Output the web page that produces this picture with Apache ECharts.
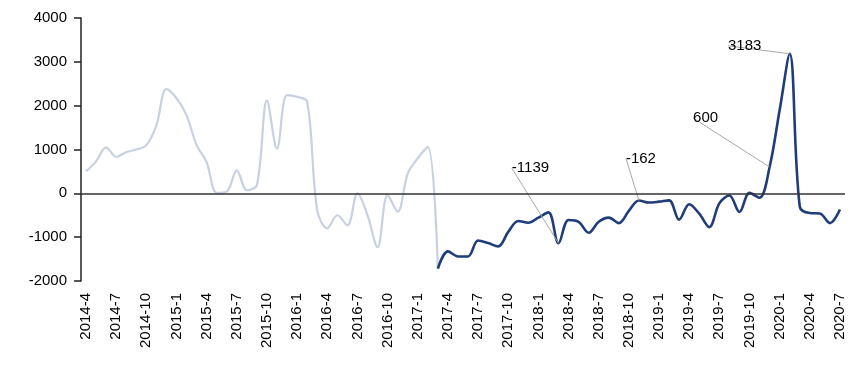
<!DOCTYPE html>
<html>
<head>
<meta charset="utf-8">
<script src="https://cdn.jsdelivr.net/npm/echarts@6/dist/echarts.min.js"></script>
<style>
html,body{margin:0;padding:0;background:#fff;}
#chart{width:868px;height:366px;}
</style>
</head>
<body>
<div id="chart"></div>
<script>
var categories = [
 '2014-4','2014-5','2014-6','2014-7','2014-8','2014-9','2014-10','2014-11','2014-12',
 '2015-1','2015-2','2015-3','2015-4','2015-5','2015-6','2015-7','2015-8','2015-9','2015-10','2015-11','2015-12',
 '2016-1','2016-2','2016-3','2016-4','2016-5','2016-6','2016-7','2016-8','2016-9','2016-10','2016-11','2016-12',
 '2017-1','2017-2','2017-3','2017-4','2017-5','2017-6','2017-7','2017-8','2017-9','2017-10','2017-11','2017-12',
 '2018-1','2018-2','2018-3','2018-4','2018-5','2018-6','2018-7','2018-8','2018-9','2018-10','2018-11','2018-12',
 '2019-1','2019-2','2019-3','2019-4','2019-5','2019-6','2019-7','2019-8','2019-9','2019-10','2019-11','2019-12',
 '2020-1','2020-2','2020-3','2020-4','2020-5','2020-6','2020-7'
];
// 2014-4 .. 2017-3
var lightValues = [500, 730, 1050, 830, 940, 1000, 1100, 1550, 2380,
  2170, 1780, 1100, 710, 10, 40, 525, 70, 190, 2120, 1020, 2240,
  2200, 2090, -390, -800, -500, -730, 0, -500, -1230, -40, -420, 450,
  800, 1060, -1720];
// 2017-3 .. 2020-7
var darkValues = [-1720, -1325, -1440, -1440, -1075, -1135, -1210, -880, -630, -670,
  -555, -435, -1139, -610, -650, -900, -650, -555, -680, -400, -162, -210,
  -190, -160, -600, -250, -465, -770, -230, -50, -425, 10, -100, 600,
  1900, 3183, -300, -450, -460, -680, -370];
var annotated = ['2018-3', '2018-11', '2019-12', '2020-2'];
var yTicks = {min: -2000, max: 4000, interval: 1000};

var darkStart = categories.indexOf('2017-3');
var lightData = categories.map(function (c, i) { return i < lightValues.length ? lightValues[i] : null; });
var labelOffsets = {};
labelOffsets[categories.indexOf('2018-3')] = [-28, -75];
labelOffsets[categories.indexOf('2018-11')] = [2, -42];
labelOffsets[categories.indexOf('2019-12')] = [-64, -49];
labelOffsets[categories.indexOf('2020-2')] = [-45, -8];

var darkData = categories.map(function (c, i) {
  if (i < darkStart) return null;
  var v = darkValues[i - darkStart];
  if (annotated.indexOf(c) >= 0) {
    return {
      value: v,
      label: {show: true, position: 'inside', formatter: String(v)},
      labelLine: {show: true, lineStyle: {color: '#a8a8a8', width: 1}}
    };
  }
  return v;
});

var chart = echarts.init(document.getElementById('chart'));
chart.setOption({
  animation: false,
  backgroundColor: '#ffffff',
  grid: {left: 81, right: 23, top: 18, bottom: 85},
  xAxis: {
    type: 'category',
    data: categories,
    boundaryGap: true,
    axisLine: {show: false},
    axisTick: {show: false},
    axisLabel: {
      interval: 2, rotate: 90, margin: 12,
      color: '#000', fontSize: 15, fontFamily: 'Liberation Sans'
    },
    splitLine: {show: false}
  },
  yAxis: {
    type: 'value',
    min: yTicks.min, max: yTicks.max, interval: yTicks.interval,
    axisLine: {show: true, onZero: false, lineStyle: {color: '#222', width: 1.5}},
    axisTick: {show: true, length: 7, lineStyle: {color: '#222', width: 1.5}},
    axisLabel: {
      margin: 14, color: '#000', fontSize: 15, fontFamily: 'Liberation Sans',
      formatter: function (v) { return String(v); }
    },
    splitLine: {show: false}
  },
  series: [
    {
      type: 'line',
      data: lightData,
      smooth: 0.35,
      showSymbol: false,
      lineStyle: {color: '#c8d1e2', width: 2.2},
      itemStyle: {color: '#c8d1e2'},
      z: 2
    },
    {
      type: 'line',
      data: darkData,
      smooth: 0.35,
      showSymbol: true,
      symbol: 'circle',
      symbolSize: 0,
      lineStyle: {color: '#1f3d7a', width: 2.6},
      itemStyle: {color: '#1f3d7a'},
      label: {show: false, color: '#000', fontSize: 15, fontFamily: 'Liberation Sans'},
      labelLayout: function (p) {
        var o = labelOffsets[p.dataIndex];
        return o ? {dx: o[0], dy: o[1]} : {};
      },
      markLine: {
        silent: true,
        symbol: ['none', 'none'],
        label: {show: false},
        lineStyle: {color: '#333', width: 1.5, type: 'solid'},
        data: [{yAxis: 0}]
      },
      z: 3
    }
  ]
});
</script>
</body>
</html>
